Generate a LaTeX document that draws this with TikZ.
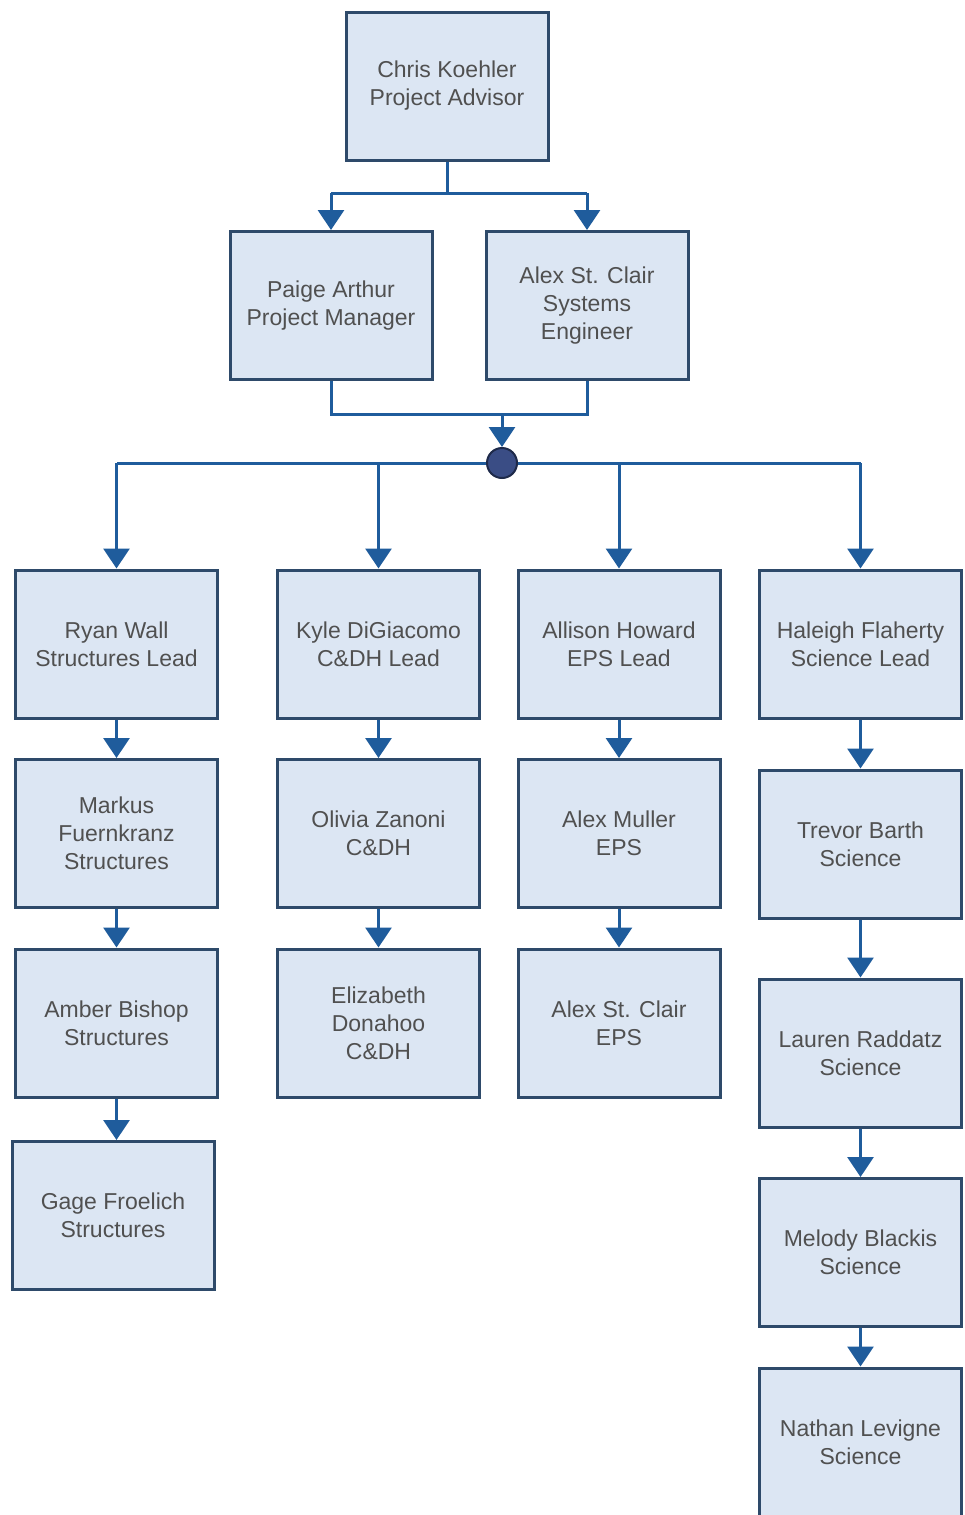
\documentclass[tikz,border=0pt]{standalone}
\usepackage{fontspec}
\setmainfont{Liberation Sans}
\usetikzlibrary{arrows.meta}
\definecolor{boxfill}{HTML}{DCE6F3}
\definecolor{boxline}{HTML}{2E4A6A}
\definecolor{conn}{HTML}{1F5C9C}
\definecolor{txt}{HTML}{505050}
\definecolor{dotfill}{HTML}{3A4D85}
\definecolor{dotline}{HTML}{1E2A4A}
\begin{document}
\begin{tikzpicture}[x=1pt,y=-1pt,
  pbox/.style={draw=boxline, line width=3pt, fill=boxfill, text=txt,
    font=\fontsize{23}{28}\selectfont, align=center, inner sep=0pt,
    minimum width=202pt, minimum height=148pt},
  link/.style={draw=conn, line width=3pt},
  arr/.style={link, -{Triangle[width=26pt,length=20pt]}}]
\useasboundingbox (0,0) rectangle (965,1515);
\clip (0,0) rectangle (965,1515);
\fill[white] (0,0) rectangle (965,1515);

\node[pbox] (chris) at (447,86) {Chris Koehler\\Project Advisor};
\node[pbox] (paige) at (331,305.5) {Paige Arthur\\Project Manager};
\node[pbox] (alexse) at (587,305.5) {Alex St. Clair\\Systems\\Engineer};

\node[pbox] (ryan) at (116.5,644) {Ryan Wall\\Structures Lead};
\node[pbox] (markus) at (116.5,833.5) {Markus\\Fuernkranz\\Structures};
\node[pbox] (amber) at (116.5,1023) {Amber Bishop\\Structures};
\node[pbox] (gage) at (113,1215.5) {Gage Froelich\\Structures};

\node[pbox] (kyle) at (378.5,644) {Kyle DiGiacomo\\C\&DH Lead};
\node[pbox] (olivia) at (378.5,833.5) {Olivia Zanoni\\C\&DH};
\node[pbox] (elizabeth) at (378.5,1023) {Elizabeth\\Donahoo\\C\&DH};

\node[pbox] (allison) at (619,644) {Allison Howard\\EPS Lead};
\node[pbox] (muller) at (619,833.5) {Alex Muller\\EPS};
\node[pbox] (alexeps) at (619,1023) {Alex St. Clair\\EPS};

\node[pbox] (haleigh) at (860.5,644) {Haleigh Flaherty\\Science Lead};
\node[pbox] (trevor) at (860.5,844) {Trevor Barth\\Science};
\node[pbox] (lauren) at (860.5,1053) {Lauren Raddatz\\Science};
\node[pbox] (melody) at (860.5,1252.5) {Melody Blackis\\Science};
\node[pbox] (nathan) at (860.5,1442) {Nathan Levigne\\Science};

% top connectors
\coordinate (j1) at (447,193);
\draw[link] (chris.south) -- (j1);
\draw[link] (paige.north |- j1) -- (alexse.north |- j1);
\draw[arr] (paige.north |- j1) -- (paige.north);
\draw[arr] (alexse.north |- j1) -- (alexse.north);

% merge into hub
\coordinate (j2) at (502,414);
\node[circle, fill=dotfill, draw=dotline, line width=2pt, minimum size=30pt, inner sep=0pt] (hub) at (502,463) {};
\draw[link] (paige.south) -- (paige.south |- j2) -- (alexse.south |- j2) -- (alexse.south);
\draw[arr] (j2) -- (hub.north);

% distribution bus
\draw[link] (hub.west) -- (ryan.north |- hub);
\draw[link] (hub.east) -- (haleigh.north |- hub);
\draw[arr] (ryan.north |- hub) -- (ryan.north);
\draw[arr] (kyle.north |- hub) -- (kyle.north);
\draw[arr] (allison.north |- hub) -- (allison.north);
\draw[arr] (haleigh.north |- hub) -- (haleigh.north);

% columns
\draw[arr] (ryan.south) -- (markus.north);
\draw[arr] (markus.south) -- (amber.north);
\draw[arr] (amber.south) -- (amber.south |- gage.north);

\draw[arr] (kyle.south) -- (olivia.north);
\draw[arr] (olivia.south) -- (elizabeth.north);

\draw[arr] (allison.south) -- (muller.north);
\draw[arr] (muller.south) -- (alexeps.north);

\draw[arr] (haleigh.south) -- (trevor.north);
\draw[arr] (trevor.south) -- (lauren.north);
\draw[arr] (lauren.south) -- (melody.north);
\draw[arr] (melody.south) -- (nathan.north);
\end{tikzpicture}
\end{document}
